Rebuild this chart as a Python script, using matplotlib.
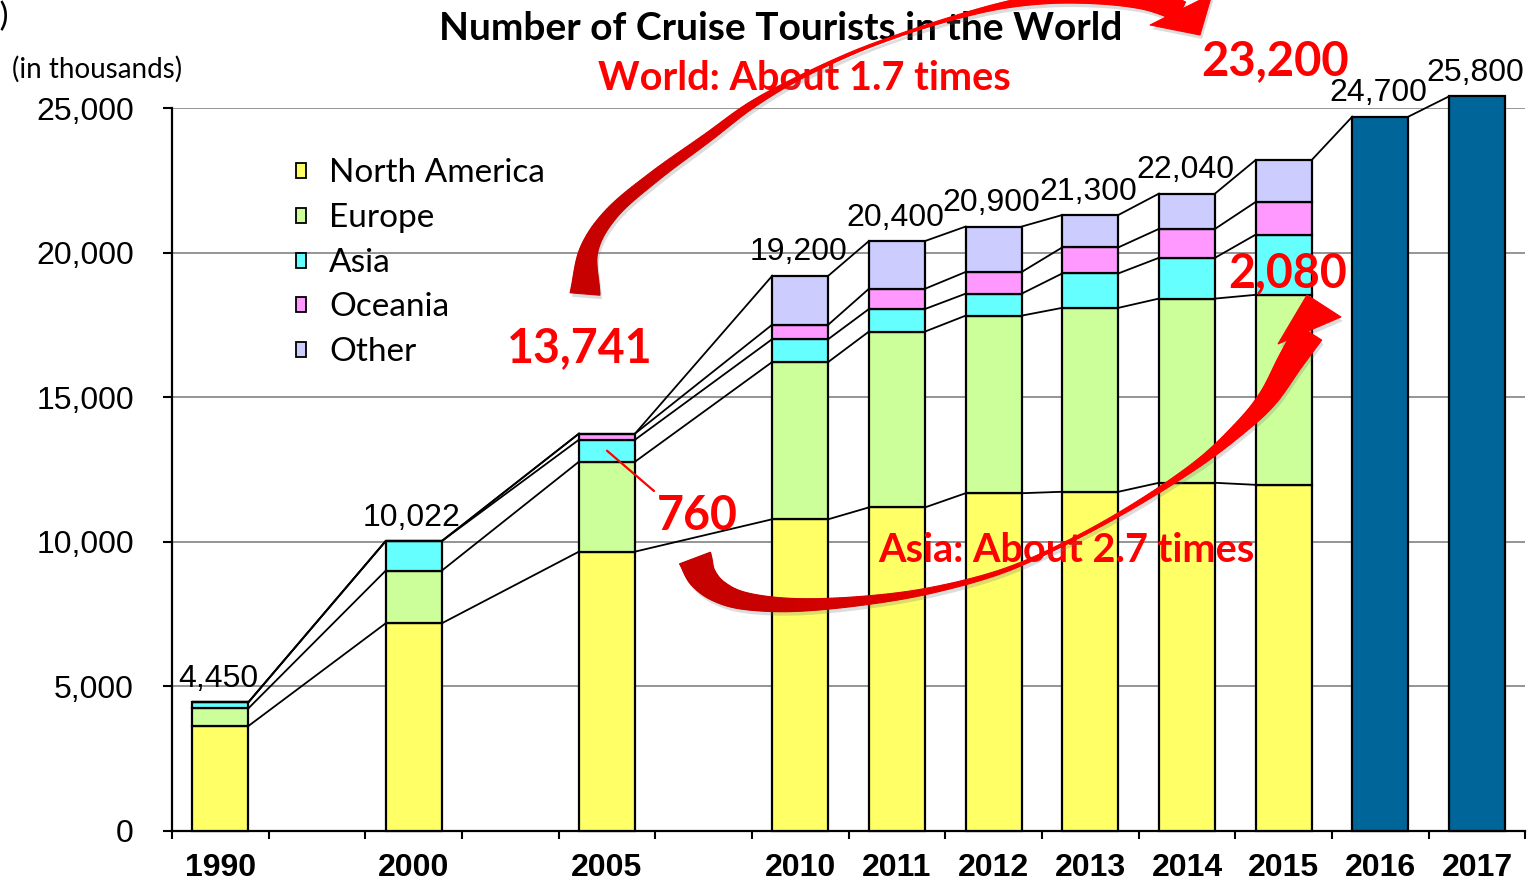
import numpy as np
import matplotlib
matplotlib.use('Agg')
import matplotlib.pyplot as plt
from matplotlib.patches import Polygon, Rectangle

# ---------------- data ----------------
years = ['1990', '2000', '2005', '2010', '2011', '2012', '2013', '2014', '2015', '2016', '2017']
regions = ['North America', 'Europe', 'Asia', 'Oceania', 'Other']
north_america = [3630, 7180, 9660, 10780, 11190, 11680, 11730, 12040, 11970]
europe = [610, 1820, 3110, 5440, 6080, 6140, 6360, 6370, 6570]
asia = [210, 1022, 760, 790, 780, 760, 1190, 1410, 2080]
oceania = [0, 0, 211, 500, 700, 750, 900, 1000, 1130]
other = [0, 0, 0, 1690, 1650, 1570, 1120, 1220, 1450]
# bar heights as drawn in the picture (2017 bar is drawn a little below its label)
world_total = [4450, 10022, 13741, 19200, 20400, 20900, 21300, 22040, 23200, 24700, 25400]
value_labels = ['4,450', '10,022', '', '19,200', '20,400', '20,900', '21,300', '22,040', '', '24,700', '25,800']
yticks = [0, 5000, 10000, 15000, 20000, 25000]
ytick_labels = ['0', '5,000', '10,000', '15,000', '20,000', '25,000']

region_colors = ['#FFFF66', '#CCFF99', '#66FFFF', '#FF99FF', '#CCCCFF']
forecast_color = '#006699'

W, H = 1536, 882
fig = plt.figure(figsize=(W / 100, H / 100), dpi=100)
fig.patch.set_facecolor('white')
ax = fig.add_axes([172 / W, (H - 831) / H, (1525.3 - 172) / W, (831 - 108) / H])

# slot positions: 2-slot gaps for multi-year steps
xpos = []
p = 0
for i, y in enumerate(years):
    if i > 0:
        p += 2 if int(y) - int(years[i - 1]) >= 5 else 1
    xpos.append(p)
xpos = np.array(xpos, float)

stack = np.array([north_america, europe, asia, oceania, other], float)
cum = np.cumsum(stack, axis=0)
bottoms = cum - stack
nb = stack.shape[1]
bw = 0.58

for k in range(len(regions)):
    ax.bar(xpos[:nb], stack[k], bottom=bottoms[k], width=bw, color=region_colors[k],
           edgecolor='black', linewidth=1.6, zorder=3, clip_on=False)
ax.bar(xpos[nb:], world_total[nb:], width=bw, color=forecast_color,
       edgecolor='black', linewidth=1.6, zorder=3, clip_on=False)

# connector lines
for i in range(nb - 1):
    for k in range(len(regions)):
        ax.plot([xpos[i] + bw / 2, xpos[i + 1] - bw / 2], [cum[k, i], cum[k, i + 1]],
                color='black', lw=1.3, zorder=2, clip_on=False)
for i in range(nb - 1, len(years) - 1):
    ax.plot([xpos[i] + bw / 2, xpos[i + 1] - bw / 2], [world_total[i], world_total[i + 1]],
            color='black', lw=1.3, zorder=2, clip_on=False)

# value labels
for i, lab in enumerate(value_labels):
    if lab:
        ax.annotate(lab, (xpos[i], world_total[i]), xytext=(-1.5, 11), textcoords='offset points',
                    ha='center', va='baseline', fontsize=23, family='Liberation Sans',
                    annotation_clip=False, zorder=4)

# axes styling
ax.set_xlim(-0.5, xpos[-1] + 0.5)
ax.set_ylim(0, 25000)
ax.set_yticks(yticks)
ax.set_yticklabels(ytick_labels, fontsize=23, family='Liberation Sans')
ax.tick_params(axis='y', length=6.5, width=1.5, pad=21)
ax.set_xticks(np.arange(-0.5, xpos[-1] + 0.51, 1.0))
ax.set_xticklabels([])
ax.tick_params(axis='x', which='major', length=6, width=1.5)
ax.set_xticks(xpos, minor=True)
ax.set_xticklabels(years, minor=True, fontsize=23, fontweight='bold', family='Liberation Sans')
ax.tick_params(axis='x', which='minor', length=0, pad=16)
ax.yaxis.grid(True, color='#8c8c8c', lw=1.3)
ax.set_axisbelow(True)
for s in ['top', 'right']:
    ax.spines[s].set_visible(False)
for s in ['left', 'bottom']:
    ax.spines[s].set_linewidth(1.6)


# ---------------- helpers in image pixel coords ----------------
def fx(x):
    return x / W


def fy(y):
    return 1 - y / H


def ptext(x, y, s, ha='center', **kw):
    fig.text(fx(x), fy(y), s, ha=ha, va='baseline', **kw)


def catmull(points, n=24):
    P = np.asarray(points, float)
    P = np.vstack([2 * P[0] - P[1], P, 2 * P[-1] - P[-2]])
    out = []
    for i in range(1, len(P) - 2):
        p0, p1, p2, p3 = P[i - 1], P[i], P[i + 1], P[i + 2]
        for t in np.linspace(0, 1, n, endpoint=False):
            t2, t3 = t * t, t * t * t
            out.append(0.5 * ((2 * p1) + (-p0 + p2) * t + (2 * p0 - 5 * p1 + 4 * p2 - p3) * t2
                              + (-p0 + 3 * p1 - 3 * p2 + p3) * t3))
    out.append(P[-2])
    return np.array(out)


def curved_arrow(spec, head, c0, c1, ta, tb, z=6):
    S = catmull(spec)
    pts = S[:, :2]
    w = np.maximum(S[:, 2], 1.0)
    d = np.gradient(pts, axis=0)
    d /= np.linalg.norm(d, axis=1)[:, None]
    nrm = np.stack([-d[:, 1], d[:, 0]], axis=1)
    left = pts + nrm * w[:, None] / 2
    right = pts - nrm * w[:, None] / 2
    # soft shadow
    sh = np.vstack([left, right[::-1]]) + np.array([2, 4])
    fig.add_artist(Polygon(np.c_[fx(sh[:, 0]), fy(sh[:, 1])], closed=True, transform=fig.transFigure,
                           facecolor='#777777', edgecolor='none', alpha=0.25, zorder=z - 1))
    hd = np.asarray(head, float) + np.array([2, 4])
    fig.add_artist(Polygon(np.c_[fx(hd[:, 0]), fy(hd[:, 1])], closed=True, transform=fig.transFigure,
                           facecolor='#777777', edgecolor='none', alpha=0.25, zorder=z - 1))
    n = len(pts)
    c0 = np.array(c0)
    c1 = np.array(c1)
    for i in range(n - 1):
        t = i / (n - 1)
        f = np.clip((t - ta) / (tb - ta), 0, 1)
        col = (1 - f) * c0 + f * c1
        q = np.array([left[i], left[i + 1], right[i + 1], right[i]])
        fig.add_artist(Polygon(np.c_[fx(q[:, 0]), fy(q[:, 1])], closed=True, transform=fig.transFigure,
                               facecolor=col, edgecolor=col, lw=0.8, zorder=z))
    hd = np.asarray(head, float)
    fig.add_artist(Polygon(np.c_[fx(hd[:, 0]), fy(hd[:, 1])], closed=True, transform=fig.transFigure,
                           facecolor=c1, edgecolor=c1, lw=0.8, zorder=z))


dark_red = (0.78, 0.0, 0.0)
bright_red = (1.0, 0.0, 0.0)

# World arrow (x, y, width)
world_arrow = [(585, 294, 30), (589, 250, 18), (612, 213, 13), (655, 176, 11), (707, 138, 9),
               (750, 106, 7), (795, 80, 4), (850, 54, 3), (900, 35, 2.5), (950, 19, 3.5),
               (1000, 6, 6), (1050, -2, 11), (1100, -4, 16), (1140, -1, 19), (1165, 5, 21), (1181, 12, 22)]
world_head = [(1200, 35), (1212, -6), (1150, 25)]
curved_arrow(world_arrow, world_head, dark_red, bright_red, 0.15, 0.45)

asia_arrow = [(695, 558, 33), (702, 576, 28), (718, 591, 22), (745, 601, 17), (794, 605, 13),
              (860, 601, 9), (928, 591, 6), (1000, 572, 4), (1062, 545, 3), (1130, 508, 4),
              (1196, 465, 7), (1240, 428, 13), (1268, 398, 19), (1290, 362, 25), (1309, 332, 30)]
asia_head = [(1307, 295), (1341, 317), (1278, 344)]
curved_arrow(asia_arrow, asia_head, dark_red, bright_red, 0.25, 0.55)

# ---------------- texts ----------------
ptext(781, 40, 'Number of Cruise Tourists in the World', fontsize=28, fontweight='bold',
      family='Lato', color='black', zorder=3)
ptext(804, 90, 'World: About 1.7 times', fontsize=28.5, fontweight='bold', family='Lato', color='#FF0000')
ptext(1275, 75, '23,200', fontsize=34, fontweight='bold', family='Lato', color='#FF0000')
ptext(580, 362, '13,741', fontsize=33.5, fontweight='bold', family='Lato', color='#FF0000')
ptext(697, 530, '760', fontsize=33.5, fontweight='bold', family='Lato', color='#FF0000', zorder=7)
ptext(1288, 287, '2,080', fontsize=33.5, fontweight='bold', family='Lato', color='#FF0000', zorder=7)
ptext(1066, 562, 'Asia: About 2.7 times', fontsize=28.5, fontweight='bold', family='Lato', color='#FF0000')
ptext(12, 78, '(in thousands)', ha='left', fontsize=20, family='Lato', color='black')
ptext(9, 26, 's)', ha='right', fontsize=24, family='Lato', color='black')

# leader line for 760
ax.annotate('', xy=(xpos[2], bottoms[2, 2] + stack[2, 2] / 2), xytext=(654, H - 491),
            textcoords='figure pixels',
            arrowprops=dict(arrowstyle='-', color='#FF0000', lw=1.6, shrinkA=0, shrinkB=0),
            annotation_clip=False, zorder=7)

# legend
for k, reg in enumerate(regions):
    base = 182 + 44.8 * k
    fig.add_artist(Rectangle((fx(296), fy(base - 4)), 10 / W, 15 / H, transform=fig.transFigure,
                             facecolor=region_colors[k], edgecolor='black', lw=1.3, zorder=4))
    ptext(329, base, reg, ha='left', fontsize=24, family='Lato', color='black')

fig.savefig('out.png', dpi=100, facecolor='white')
